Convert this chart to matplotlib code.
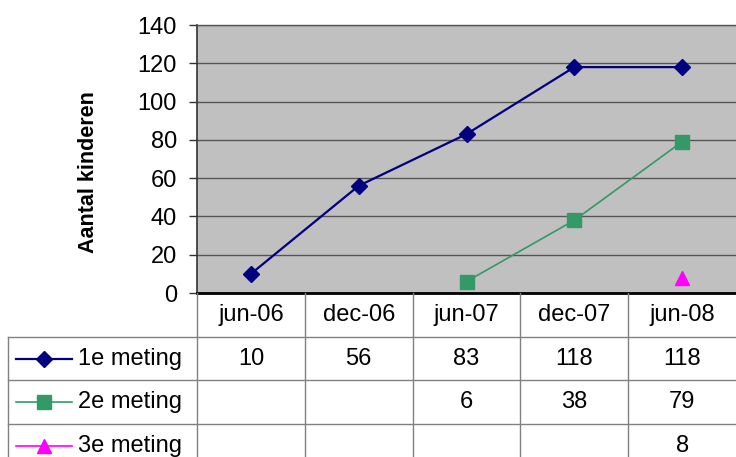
import matplotlib
matplotlib.use("Agg")
import matplotlib.pyplot as plt
import numpy as np

plt.rcParams['font.family'] = ['Liberation Sans', 'DejaVu Sans']

categories = ["jun-06", "dec-06", "jun-07", "dec-07", "jun-08"]
series_names = ["1e meting", "2e meting", "3e meting"]
meting1 = [10, 56, 83, 118, 118]
meting2 = [None, None, 6, 38, 79]
meting3 = [None, None, None, None, 8]
y_ticks = [0, 20, 40, 60, 80, 100, 120, 140]
y_label = "Aantal kinderen"

colors = ["#000080", "#339966", "#FF00FF"]
markers = ["D", "s", "^"]
msizes = [8, 10, 10]
lws = [1.6, 1.2, 1.2]

W, H = 736, 457
fig = plt.figure(figsize=(W / 100, H / 100), dpi=100)

px_left, px_right, px_top, px_bottom = 197, 736, 25, 293
ax = fig.add_axes([px_left / W, 1 - px_bottom / H, (px_right - px_left) / W, (px_bottom - px_top) / H])
ax.set_facecolor("#C0C0C0")
x = np.arange(len(categories))
series = [meting1, meting2, meting3]
for vals, c, m, ms, lw in zip(series, colors, markers, msizes, lws):
    v = np.array([np.nan if a is None else a for a in vals], dtype=float)
    ax.plot(x, v, color=c, marker=m, markersize=ms, linewidth=lw, zorder=3)

ax.set_xlim(-0.5, len(categories) - 0.5)
ax.set_ylim(0, 140)
ax.set_yticks(y_ticks)
ax.set_yticklabels([str(t) for t in y_ticks], fontsize=17)
ax.set_xticks([])
ax.tick_params(axis='y', direction='out', length=6, width=1, color='#333333', pad=8.5)
ax.yaxis.grid(True, color='#555555', linewidth=1)
ax.set_axisbelow(True)
ax.spines['right'].set_visible(False)
ax.spines['top'].set_color('#555555')
ax.spines['top'].set_linewidth(1)
ax.spines['left'].set_color('#333333')
ax.spines['left'].set_linewidth(1.2)
ax.spines['bottom'].set_color('black')
ax.spines['bottom'].set_linewidth(2)
ax.set_ylabel(y_label, fontsize=15.5, fontweight='bold', va='center', ha='center')
ax.yaxis.set_label_coords((88 - px_left) / (px_right - px_left), (px_bottom - 172) / (px_bottom - px_top))

# data table
tab_top = px_bottom
tax = fig.add_axes([px_left / W, 0, (px_right - px_left) / W, (H - tab_top) / H])
row_h = 43.7
cat_w = (px_right - px_left) / len(categories)
tax.set_xlim(-0.5, len(categories) - 0.5)
tax.set_ylim((H - tab_top) / row_h, 0)
tax.axis('off')

def px2x(px):
    return (px - px_left) / cat_w - 0.5

ybot = (H - tab_top) / row_h + 0.5
lc = '#808080'
xl = px2x(8)
# vertical lines
tax.plot([-0.5, -0.5], [0, ybot], color=lc, lw=1, clip_on=False)
for i in range(1, len(categories)):
    tax.plot([i - 0.5, i - 0.5], [0, ybot], color=lc, lw=1, clip_on=False)
tax.plot([xl, xl], [1, ybot], color=lc, lw=1, clip_on=False)
# horizontal lines
for r in range(1, len(series) + 1):
    tax.plot([xl, len(categories) - 0.5], [r, r], color=lc, lw=1, clip_on=False)

for i, c in enumerate(categories):
    tax.text(i, 0.5, c, ha='center', va='center', fontsize=17)

for r, (name, vals, c, m, ms, lw) in enumerate(zip(series_names, series, colors, markers, msizes, lws)):
    yc = r + 1.5
    tax.plot([px2x(16), px2x(72)], [yc, yc], color=c, lw=lw, clip_on=False)
    tax.plot([px2x(44)], [yc], color=c, marker=m, markersize=ms, clip_on=False)
    tax.text(px2x(78), yc, name, ha='left', va='center', fontsize=17, clip_on=False)
    for i, v in enumerate(vals):
        if v is not None:
            tax.text(i, yc, str(v), ha='center', va='center', fontsize=17)

fig.savefig("out.png", dpi=100)
